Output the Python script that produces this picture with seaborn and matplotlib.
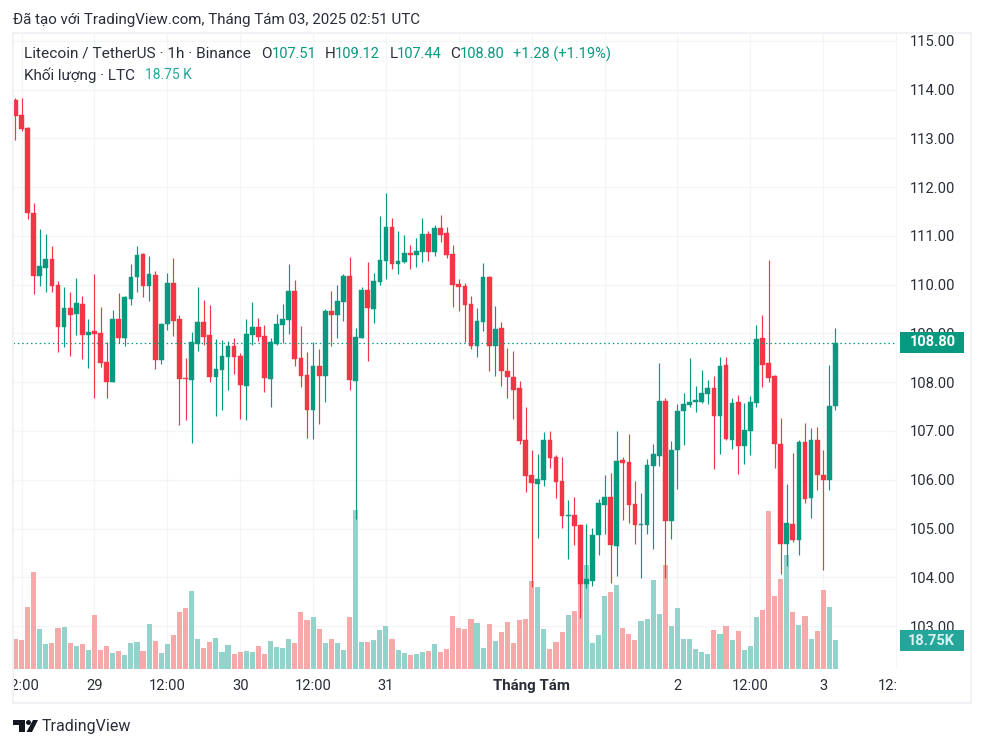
import pandas as pd
import matplotlib.pyplot as plt
from matplotlib.patches import Rectangle, Polygon, Circle
from matplotlib.transforms import Bbox, TransformedBbox
import seaborn as sns

W, H = 984, 748

opens = [113.79,113.48,113.21,111.47,110.18,110.34,110.53,109.99,109.13,109.52,
         109.40,109.60,108.97,109.05,109.01,108.41,108.00,109.29,108.91,109.70,
         110.16,110.63,109.97,110.20,108.45,109.19,110.03,109.29,108.08,108.04,
         108.78,109.23,108.97,108.11,108.25,108.52,108.74,108.54,107.93,108.97,
         109.14,108.95,108.07,108.79,109.18,109.28,109.88,108.50,108.15,107.44,
         108.34,108.13,109.47,109.38,109.65,110.18,108.03,108.91,109.90,109.51,
         110.06,110.49,111.19,110.43,110.47,110.65,110.61,110.68,111.04,110.68,
         111.17,111.06,110.63,110.02,109.98,109.61,108.75,109.24,110.15,108.75,
         109.12,108.24,108.11,107.89,106.82,106.10,105.92,106.00,106.82,106.47,
         105.98,105.26,105.28,105.08,103.87,103.93,104.87,105.49,105.65,104.65,
         106.41,106.37,105.51,105.08,105.08,106.29,106.49,107.62,105.16,106.60,
         107.42,107.54,107.60,107.60,107.75,107.89,107.30,108.36,106.82,107.60,
         106.70,107.01,107.58,108.90,108.39,108.12,106.74,104.69,105.10,104.77,
         106.78,105.63,106.82,106.10,106.00,107.51]
closes = [113.46,113.19,111.47,110.18,110.38,110.53,109.97,109.13,109.52,109.38,
          109.62,108.97,109.03,108.99,108.39,108.00,109.29,108.91,109.75,110.16,
          110.61,109.97,110.22,108.45,109.19,110.03,109.25,108.06,108.06,108.82,
          109.23,108.93,108.11,108.27,108.54,108.74,108.52,107.95,108.99,109.14,
          108.93,108.09,108.83,109.20,109.30,109.88,108.48,108.13,107.44,108.34,
          108.13,109.47,109.38,109.67,110.18,108.05,108.93,109.90,109.53,110.08,
          110.51,111.19,110.43,110.49,110.65,110.61,110.70,111.04,110.68,111.17,
          111.02,110.61,110.00,109.96,109.59,108.75,109.26,110.15,108.75,109.10,
          108.24,108.11,107.85,106.80,106.08,105.94,106.02,106.82,106.45,105.96,
          105.26,105.28,105.06,103.87,103.97,104.87,105.53,105.65,104.67,106.39,
          106.35,105.49,105.08,105.10,106.31,106.53,107.62,105.16,106.60,107.42,
          107.56,107.60,107.63,107.77,107.89,107.30,108.34,106.84,107.58,106.70,
          107.03,107.60,108.88,108.36,108.08,106.74,104.69,105.12,104.77,106.78,
          105.61,106.82,106.09,106.00,107.52,108.80]
highs = [113.82,113.82,113.23,111.67,111.14,111.04,110.79,110.07,109.95,109.85,
         110.14,109.77,109.29,110.22,109.54,108.82,109.48,109.83,109.76,110.42,
         110.79,110.65,110.59,110.28,109.21,110.24,110.55,109.38,108.49,109.03,
         109.95,109.68,109.58,108.88,108.86,108.84,108.91,108.60,109.30,109.65,
         109.32,109.18,108.91,109.40,109.61,110.43,110.10,109.16,108.61,108.83,
         108.69,109.51,109.88,110.00,110.22,110.57,109.12,109.96,110.47,110.24,
         111.41,111.88,111.37,111.11,111.02,110.82,110.96,111.37,111.11,111.23,
         111.43,111.19,110.82,110.12,110.04,109.76,109.53,110.45,110.17,109.57,
         109.24,108.71,108.63,108.03,107.50,106.62,106.53,106.98,107.01,106.50,
         106.47,105.59,105.65,105.09,105.10,105.02,105.61,106.10,106.14,107.01,
         106.47,106.94,105.98,105.73,106.43,106.74,108.40,107.68,106.80,107.56,
         107.77,108.49,107.93,108.26,108.04,108.12,108.51,108.51,107.67,107.73,
         107.58,107.71,109.17,109.37,110.50,108.14,107.26,105.91,106.54,106.82,
         107.17,107.07,107.09,106.62,108.36,109.12]
lows = [112.97,113.16,111.35,109.81,109.97,109.85,109.85,108.62,108.72,108.54,
        108.97,108.47,108.29,107.67,108.32,107.67,108.00,108.80,108.74,109.58,
        109.85,109.75,109.66,108.27,108.37,109.07,108.95,107.12,107.22,106.75,
        108.64,108.76,108.00,107.31,107.43,107.84,108.17,107.25,107.23,108.77,
        108.85,107.79,107.50,108.77,108.81,108.99,108.34,107.91,106.86,106.84,
        107.15,107.60,108.75,108.91,109.26,107.85,105.20,108.91,108.44,109.22,
        110.00,110.12,110.33,110.22,110.45,110.33,110.37,110.47,110.49,110.59,
        110.88,110.55,109.55,109.47,108.83,108.69,108.52,109.04,108.24,108.13,
        107.93,107.68,107.25,106.74,105.75,103.80,104.81,105.88,106.25,105.63,
        105.02,104.38,104.67,103.16,103.78,103.83,104.46,104.89,103.89,104.03,
        105.18,105.12,104.69,103.99,104.89,104.58,106.29,103.99,104.79,105.82,
        106.72,107.50,107.38,107.58,107.56,106.23,106.52,106.82,106.64,106.11,
        106.33,106.50,107.50,107.91,108.00,106.25,104.07,104.24,104.73,104.46,
        105.53,105.22,105.78,104.16,105.78,107.44]
volumes = [19.4,18.7,40.1,62.7,25.9,16.2,16.8,26.5,27.2,16.8,
           14.9,16.2,12.3,34.9,12.3,14.9,10.3,11.6,9.1,16.8,
           17.5,11.6,29.1,18.1,10.3,16.2,22.0,36.9,39.4,50.4,
           19.4,13.6,17.5,20.0,11.0,15.5,9.7,11.0,11.6,11.0,
           14.9,9.7,18.1,14.2,13.6,19.4,16.8,36.9,31.7,33.6,
           25.9,16.8,19.4,16.8,12.3,33.6,102.8,17.5,17.5,18.7,
           25.2,27.8,19.4,12.3,10.3,9.1,9.7,11.0,11.6,16.2,
           11.0,12.9,34.3,26.5,25.9,32.3,29.7,13.6,29.1,18.1,
           23.9,30.4,16.8,31.7,32.3,56.9,53.0,25.9,12.9,17.5,
           23.9,34.9,37.5,55.6,67.2,16.8,22.0,47.2,49.8,54.3,
           26.5,22.6,18.7,31.0,32.3,57.5,35.6,67.2,27.8,39.4,
           19.4,19.4,12.9,11.0,9.7,25.2,22.6,27.8,18.7,24.6,
           12.3,14.9,33.6,38.1,102.1,47.2,58.2,73.7,36.9,28.4,
           34.3,19.4,24.6,51.1,40.1,18.75]

price_ticks = [103, 104, 105, 106, 107, 108, 109, 110, 111, 112, 113, 114, 115]
time_ticks = [1, 13, 25, 37, 49, 61, 73, 85, 97, 109, 121, 133, 145]
time_labels = ['12:00', '29', '12:00', '30', '12:00', '31', '', 'Tháng Tám', '', '2', '12:00', '3', '12:00']
last_price = 108.80
last_volume = 18.75

UP, DOWN = '#089981', '#F23645'
UP_VOL, DOWN_VOL = '#94D3CB', '#F6A9A9'
GRID = '#F4F5F7'
TEXT = '#131722'

sns.set_theme(style='white')
plt.rcParams['font.family'] = ['Roboto', 'DejaVu Sans']

df = pd.DataFrame({'bar': range(len(opens)), 'open': opens, 'high': highs,
                   'low': lows, 'close': closes, 'volume': volumes})
df['dir'] = ['up' if c >= o else 'down' for o, c in zip(df['open'], df['close'])]
colors = df['dir'].map({'up': UP, 'down': DOWN})

fig = plt.figure(figsize=(W / 100, H / 100), dpi=100, facecolor='white')
ax = fig.add_axes([13 / W, 1 - 669 / H, 884 / W, 636 / H])
ax.set_xlim(-0.41, 145.15)
ax.set_ylim(102.12, 115.16)
sns.despine(ax=ax, left=True, bottom=True)

# volume sits in its own axes under the candles
vol = ax.inset_axes([0, 0, 1, 1], zorder=1.5)
sns.barplot(data=df, x='bar', y='volume', hue='dir', palette={'up': UP_VOL, 'down': DOWN_VOL},
            native_scale=True, dodge=False, width=0.84, saturation=1, legend=False,
            errorbar=None, linewidth=0, edgecolor='none', ax=vol)
vol.set_xlim(-0.41, 145.15)
vol.set_ylim(0, 411)
vol.set(xlabel='', ylabel='', xticks=[], yticks=[])
vol.axis('off')

ax.vlines(df['bar'], df['low'], df['high'], color=colors, lw=0.85, zorder=3)
ax.bar(df['bar'], df['close'] - df['open'], bottom=df['open'], width=0.78, color=colors,
       edgecolor=colors, linewidth=0.3, zorder=4)
ax.axhline(last_price, color=UP, lw=0.9, ls=(0, (1.2, 2.3)), zorder=5)

ax.set_axisbelow(True)
ax.grid(True, color=GRID, lw=1)
ax.yaxis.tick_right()
ax.set_yticks(price_ticks, [f'{p:.2f}' for p in price_ticks])
ax.set_xticks(time_ticks, time_labels)
ax.tick_params(axis='both', length=0, labelsize=10.6, labelcolor='#2A2E39')
ax.tick_params(axis='y', pad=9.5)
ax.tick_params(axis='x', pad=7.5)

clip = TransformedBbox(Bbox([[13 / W, 0], [897 / W, 1]]), fig.transFigure)
for lab in ax.get_xticklabels():
    lab.set_clip_box(clip)
    lab.set_clip_on(True)
    if lab.get_text() == 'Tháng Tám':
        lab.set_fontweight('bold')
        lab.set_fontsize(10.9)

def box(x0, y0, x1, y1, **kw):
    fig.add_artist(Rectangle((x0 / W, 1 - y1 / H), (x1 - x0) / W, (y1 - y0) / H,
                             transform=fig.transFigure, **kw))

def label(x, y, s, color=TEXT, size=10.5, **kw):
    fig.text(x / W, 1 - y / H, s, color=color, fontsize=size, va='center', **kw)

box(13, 33, 971, 703, fc='none', ec='#F0F2F6', lw=1.5, zorder=1)
box(900, 332, 964, 353, fc=UP, ec='none', zorder=2)
box(900, 630, 964, 651, fc='#26A69A', ec='none', zorder=2)
label(933, 342.5, f'{last_price:.2f}', color='white', weight='bold', ha='center', zorder=3)
label(931, 641, f'{last_volume}K', color='#D9F2EF', weight='bold', ha='center', zorder=3)

label(13, 19.5, 'Đã tạo với TradingView.com, Tháng Tám 03, 2025 02:51 UTC', color='#2A2E39', size=10.9)
label(23.5, 54, 'Litecoin / TetherUS · 1h · Binance', color='#2A2E39', size=11.1)
for x, s in [(261, 'O'), (325, 'H'), (390, 'L'), (450, 'C')]:
    label(x, 54, s, color='#2A2E39', size=11)
for x, s in [(272, '107.51'), (335, '109.12'), (397, '107.44'), (460, '108.80'), (513, '+1.28 (+1.19%)')]:
    label(x, 54, s, color=UP)
label(23.5, 75, 'Khối lượng · LTC', color='#2A2E39', size=11)
label(145, 75, '18.75 K', color='#26A69A', size=10)

# TradingView mark, bottom left
for pts in ([(13, 720), (25, 720), (25, 732), (19, 732), (19, 725), (13, 725)],
            [(33, 720), (38, 720), (32, 732), (26.5, 732)]):
    fig.add_artist(Polygon([(x / W, 1 - y / H) for x, y in pts], transform=fig.transFigure,
                           fc=TEXT, ec='none'))
fig.add_artist(Circle((28.5, H - 722.5), 2.5, transform=None, fc=TEXT, ec='none'))
label(42, 727, 'TradingView', color='#2A2E39', size=11.5)

fig.savefig('out.png', dpi=100)
